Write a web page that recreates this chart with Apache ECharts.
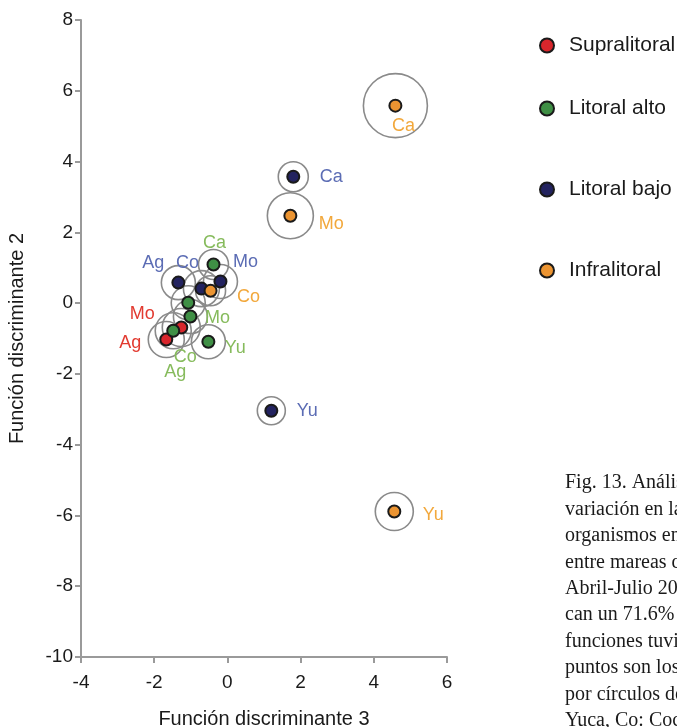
<!DOCTYPE html>
<html>
<head>
<meta charset="utf-8">
<script src="https://cdn.jsdelivr.net/npm/echarts@6/dist/echarts.min.js"></script>
<style>
  html, body { margin: 0; padding: 0; background: #fff; }
  #chart { width: 677px; height: 727px; }
</style>
</head>
<body>
<div id="chart"></div>
<script>
// zonas y sitios
const zones = ["Supralitoral", "Litoral alto", "Litoral bajo", "Infralitoral"];

const supraSites = ["Ag", "Mo"];
const supraX = [-1.67, -1.26];
const supraY = [-1.03, -0.69];

const altoSites = ["Ca", "Ag", "Mo", "Co", "Yu"];
const altoX = [-0.38, -1.07, -1.01, -1.48, -0.52];
const altoY = [1.09, 0.01, -0.38, -0.78, -1.09];

const bajoSites = ["Ag", "Co", "Mo", "Ca", "Yu"];
const bajoX = [-1.34, -0.71, -0.19, 1.8, 1.2];
const bajoY = [0.58, 0.41, 0.61, 3.57, -3.04];

const infraSites = ["Co", "Ca", "Mo", "Yu"];
const infraX = [-0.46, 4.59, 1.72, 4.56];
const infraY = [0.35, 5.58, 2.47, -5.89];

const xTicks = [-4, -2, 0, 2, 4, 6];
const yTicks = [-10, -8, -6, -4, -2, 0, 2, 4, 6, 8];

const caption = [
  "Fig. 13. Análisis discriminante de la",
  "variación en la distribución de los",
  "organismos en las diferentes zonas",
  "entre mareas de los sitios de estudio,",
  "Abril-Julio 2004. Las funciones expli-",
  "can un 71.6% de la variación. Las",
  "funciones tuvieron significancia. Los",
  "puntos son los centroides rodeados",
  "por círculos de confianza. Yu:",
  "Yuca, Co: Cocos, Mo: Morro."
];

// estilos (tamaño del círculo, posición de etiqueta)
const fill = ["#d8262c", "#3f8f45", "#23235f", "#eb9432"];
const labelColor = ["#e23a30", "#86bb5c", "#5b6cb4", "#f2a83c"];
const ringSize = {
  "Supralitoral-Ag": 36, "Supralitoral-Mo": 38,
  "Litoral alto-Ca": 30, "Litoral alto-Ag": 34, "Litoral alto-Mo": 34,
  "Litoral alto-Co": 36, "Litoral alto-Yu": 34,
  "Litoral bajo-Ag": 34, "Litoral bajo-Co": 36, "Litoral bajo-Mo": 34,
  "Litoral bajo-Ca": 30, "Litoral bajo-Yu": 28,
  "Infralitoral-Co": 30, "Infralitoral-Ca": 64, "Infralitoral-Mo": 46,
  "Infralitoral-Yu": 38
};
const labelOffset = {
  "Supralitoral-Ag": [-36, 3], "Supralitoral-Mo": [-39, -13],
  "Litoral alto-Ca": [1, -22], "Litoral alto-Ag": [-13, 69], "Litoral alto-Mo": [27, 1],
  "Litoral alto-Co": [12, 26], "Litoral alto-Yu": [27, 6],
  "Litoral bajo-Ag": [-25, -20], "Litoral bajo-Co": [-14, -26], "Litoral bajo-Mo": [25, -19],
  "Litoral bajo-Ca": [38, 0], "Litoral bajo-Yu": [36, 0],
  "Infralitoral-Co": [38, 6], "Infralitoral-Ca": [8, 20], "Infralitoral-Mo": [41, 8],
  "Infralitoral-Yu": [39, 3]
};

const groups = [
  [supraSites, supraX, supraY],
  [altoSites, altoX, altoY],
  [bajoSites, bajoX, bajoY],
  [infraSites, infraX, infraY]
];

let ringData = [];
let series = [];
groups.forEach((g, i) => {
  let sites = g[0], xs = g[1], ys = g[2];
  let pts = [];
  for (let n = 0; n < sites.length; n++) {
    let key = zones[i] + "-" + sites[n];
    ringData.push({ value: [xs[n], ys[n]], symbolSize: ringSize[key] });
    pts.push({
      name: sites[n],
      value: [xs[n], ys[n]],
      label: { offset: labelOffset[key] }
    });
  }
  series.push({
    name: zones[i],
    type: "scatter",
    z: 3,
    symbol: "circle",
    symbolSize: 12,
    itemStyle: { color: fill[i], borderColor: "#1a1a1a", borderWidth: 2, opacity: 1 },
    label: {
      show: true,
      position: "inside",
      formatter: "{b}",
      color: labelColor[i],
      fontFamily: "Liberation Sans",
      fontSize: 18
    },
    emphasis: { disabled: true },
    data: pts
  });
});

series.unshift({
  name: "rings",
  type: "scatter",
  z: 2,
  silent: true,
  symbol: "circle",
  itemStyle: { color: "rgba(255,255,255,0)", borderColor: "#8a8a8a", borderWidth: 1.6, opacity: 1 },
  data: ringData
});

const legendTops = [30, 93, 174, 255];
let legends = zones.map((z, i) => ({
  data: [z],
  orient: "vertical",
  left: 534,
  top: legendTops[i],
  icon: "circle",
  itemWidth: 26,
  itemHeight: 14,
  itemGap: 6,
  textStyle: { fontFamily: "Liberation Sans", fontSize: 21, color: "#1a1a1a", padding: [0, 0, 0, 4] }
}));

const axisCol = "#9a9a9a";
const option = {
  animation: false,
  backgroundColor: "#fff",
  grid: { left: 81, right: 230, top: 20, bottom: 70, outerBoundsMode: "none", containLabel: false },
  legend: legends,
  xAxis: {
    type: "value",
    min: xTicks[0],
    max: xTicks[xTicks.length - 1],
    interval: 2,
    name: "Función discriminante 3",
    nameLocation: "middle",
    nameGap: 52,
    nameTextStyle: { fontFamily: "Liberation Sans", fontSize: 20, color: "#1a1a1a" },
    axisLine: { onZero: false, lineStyle: { color: axisCol, width: 2 } },
    axisTick: { length: 6, lineStyle: { color: axisCol, width: 2 } },
    axisLabel: { fontFamily: "Liberation Sans", fontSize: 19, color: "#1a1a1a", margin: 16 },
    splitLine: { show: false }
  },
  yAxis: {
    type: "value",
    min: yTicks[0],
    max: yTicks[yTicks.length - 1],
    interval: 2,
    name: "Función discriminante 2",
    nameLocation: "middle",
    nameGap: 54,
    nameTextStyle: { fontFamily: "Liberation Sans", fontSize: 20, color: "#1a1a1a" },
    axisLine: { onZero: false, lineStyle: { color: axisCol, width: 2 } },
    axisTick: { length: 6, lineStyle: { color: axisCol, width: 2 } },
    axisLabel: { fontFamily: "Liberation Sans", fontSize: 19, color: "#1a1a1a", margin: 8 },
    splitLine: { show: false }
  },
  graphic: [
    {
      type: "text",
      left: 565,
      top: 470,
      style: {
        text: caption.join("\n"),
        font: '20px "Liberation Serif"',
        lineHeight: 26.4,
        fill: "#1a1a1a"
      }
    }
  ],
  series: series
};

let chart = echarts.init(document.getElementById("chart"));
chart.setOption(option);
</script>
</body>
</html>
